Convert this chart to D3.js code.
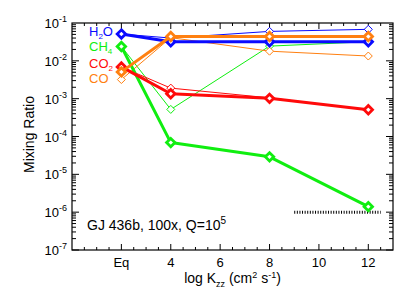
<!DOCTYPE html>
<html>
<head>
<meta charset="utf-8">
<script src="https://cdn.jsdelivr.net/npm/d3@7"></script>
<style>
  body { margin: 0; background: #fff; }
  text { font-family: "Liberation Sans", Arial, Helvetica, sans-serif; }
</style>
</head>
<body>
<div class="chart"></div>
<script>
// x positions: Eq is drawn at 2, then log Kzz = 4, 8, 12
var xPos = [2, 4, 8, 12];
var xTickVals = [2, 4, 6, 8, 10, 12];
var xTickLabels = ["Eq", "4", "6", "8", "10", "12"];
var yTickExp = [-1, -2, -3, -4, -5, -6, -7];

// thick lines
var h2oThick = [0.051, 0.032, 0.032, 0.032];
var ch4Thick = [0.024, 6.9e-5, 2.9e-5, 1.4e-6];
var co2Thick = [0.0069, 1.35e-3, 1.02e-3, 5.1e-4];
var coThick  = [0.0051, 0.044, 0.044, 0.044];

// thin lines (open diamonds)
var h2oThin = [0.051, 0.040, 0.060, 0.068];
var ch4Thin = [0.024, 5.2e-4, 0.0245, 0.032];
var co2Thin = [0.0069, 1.9e-3, 1.05e-3, 5.1e-4];
var coThin  = [0.0032, 0.041, 0.018, 0.0134];

// dotted reference line at 1e-6
var refLineX = [9, 12.5];
var refLineY = 1e-6;

var svgWidth = 415, svgHeight = 297;
var margin = {top: 23, right: 22, bottom: 47, left: 72};
var width = svgWidth - margin.left - margin.right;
var height = svgHeight - margin.top - margin.bottom;

var svg = d3.select(".chart").append("svg")
  .attr("width", svgWidth)
  .attr("height", svgHeight);

var g = svg.append("g")
  .attr("transform", `translate(${margin.left}, ${margin.top})`);

var x = d3.scaleLinear().domain([0, 13]).range([0, width]);
var y = d3.scaleLog().domain([1e-7, 1e-1]).range([height, 0]);

// frame
g.append("rect")
  .attr("width", width).attr("height", height)
  .attr("fill", "none").attr("stroke", "#000").attr("stroke-width", 1.2);

// x ticks (inward, bottom and top)
var xMinor = d3.range(0.5, 13, 0.5);
xMinor.forEach(function(v) {
  var major = (v % 2 === 0);
  var len = major ? 6 : 3;
  g.append("line").attr("x1", x(v)).attr("x2", x(v))
    .attr("y1", height).attr("y2", height - len)
    .attr("stroke", "#000").attr("stroke-width", 1);
  g.append("line").attr("x1", x(v)).attr("x2", x(v))
    .attr("y1", 0).attr("y2", len)
    .attr("stroke", "#000").attr("stroke-width", 1);
});

// y ticks (inward, left and right)
for (var e = -7; e < -1; e++) {
  for (var m = 1; m < 10; m++) {
    var v = m * Math.pow(10, e);
    var len = m === 1 ? 7 : 4;
    g.append("line").attr("x1", 0).attr("x2", len)
      .attr("y1", y(v)).attr("y2", y(v))
      .attr("stroke", "#000").attr("stroke-width", 1);
    g.append("line").attr("x1", width).attr("x2", width - len)
      .attr("y1", y(v)).attr("y2", y(v))
      .attr("stroke", "#000").attr("stroke-width", 1);
  }
}

// x tick labels
xTickVals.forEach(function(v, i) {
  g.append("text")
    .attr("x", x(v)).attr("y", height + 17)
    .attr("text-anchor", "middle")
    .style("font-size", "13px")
    .text(xTickLabels[i]);
});

// y tick labels 10^n
yTickExp.forEach(function(ex) {
  var t = g.append("text")
    .attr("x", -5).attr("y", y(Math.pow(10, ex)) + 5)
    .attr("text-anchor", "end")
    .style("font-size", "13px");
  t.append("tspan").text("10");
  t.append("tspan").attr("dy", -6).style("font-size", "9px").text(ex);
});

// axis titles
var xt = g.append("text")
  .attr("x", x(6.5)).attr("y", height + 33)
  .attr("text-anchor", "middle")
  .style("font-size", "14px");
xt.append("tspan").text("log K");
xt.append("tspan").attr("dy", 4).style("font-size", "9px").text("zz");
xt.append("tspan").attr("dy", -4).text(" (cm");
xt.append("tspan").attr("dy", -5).style("font-size", "9px").text("2");
xt.append("tspan").attr("dy", 5).text(" s");
xt.append("tspan").attr("dy", -5).style("font-size", "9px").text("-1");
xt.append("tspan").attr("dy", 5).text(")");

g.append("text")
  .attr("text-anchor", "middle")
  .attr("transform", "translate(" + (-38) + "," + (height / 2 - 2) + ")rotate(-90)")
  .style("font-size", "14px")
  .text("Mixing Ratio");

// dotted reference line
g.append("line")
  .attr("x1", x(refLineX[0])).attr("x2", x(refLineX[1]))
  .attr("y1", y(refLineY)).attr("y2", y(refLineY))
  .attr("stroke", "#000").attr("stroke-width", 3)
  .attr("stroke-dasharray", "1,1.6");

var line = d3.line()
  .x(function(d, i) { return x(xPos[i]); })
  .y(function(d) { return y(d); });

function diamond(r) {
  return "M0," + (-r) + "L" + r + ",0L0," + r + "L" + (-r) + ",0Z";
}

function drawSeries(vals, color, thick) {
  g.append("path").datum(vals)
    .attr("d", line)
    .attr("fill", "none")
    .attr("stroke", color)
    .attr("stroke-width", thick ? 3 : 1)
    .attr("stroke-linejoin", "round");
  g.append("g").selectAll("path")
    .data(vals).enter().append("path")
    .attr("d", diamond(thick ? 4.2 : 4))
    .attr("transform", function(d, i) { return "translate(" + x(xPos[i]) + "," + y(d) + ")"; })
    .attr("fill", "#fff")
    .attr("stroke", color)
    .attr("stroke-width", thick ? 2.8 : 1);
}

var cBlue = "#0a0aff", cGreen = "#10ee10", cRed = "#ff0a0a", cOrange = "#ff8010";

drawSeries(h2oThin, cBlue, false);
drawSeries(ch4Thin, cGreen, false);
drawSeries(co2Thin, cRed, false);
drawSeries(coThin, cOrange, false);
drawSeries(h2oThick, cBlue, true);
drawSeries(ch4Thick, cGreen, true);
drawSeries(co2Thick, cRed, true);
drawSeries(coThick, cOrange, true);

// legend labels
function legend(yy, color, parts) {
  var t = g.append("text")
    .attr("x", 17).attr("y", yy)
    .attr("fill", color)
    .style("font-size", "13px");
  parts.forEach(function(p) {
    if (p.sub) t.append("tspan").attr("dy", 3).style("font-size", "8px").text(p.s);
    else t.append("tspan").attr("dy", p.back ? -3 : 0).text(p.s);
  });
}
legend(13, cBlue, [{s: "H"}, {s: "2", sub: true}, {s: "O", back: true}]);
legend(28, cGreen, [{s: "CH"}, {s: "4", sub: true}]);
legend(45, cRed, [{s: "CO"}, {s: "2", sub: true}]);
legend(60, cOrange, [{s: "CO"}]);

// annotation
var ann = g.append("text")
  .attr("x", 15).attr("y", 207)
  .style("font-size", "14px");
ann.append("tspan").text("GJ 436b, 100x, Q=10");
ann.append("tspan").attr("dy", -6).style("font-size", "10px").text("5");
</script>
</body>
</html>
